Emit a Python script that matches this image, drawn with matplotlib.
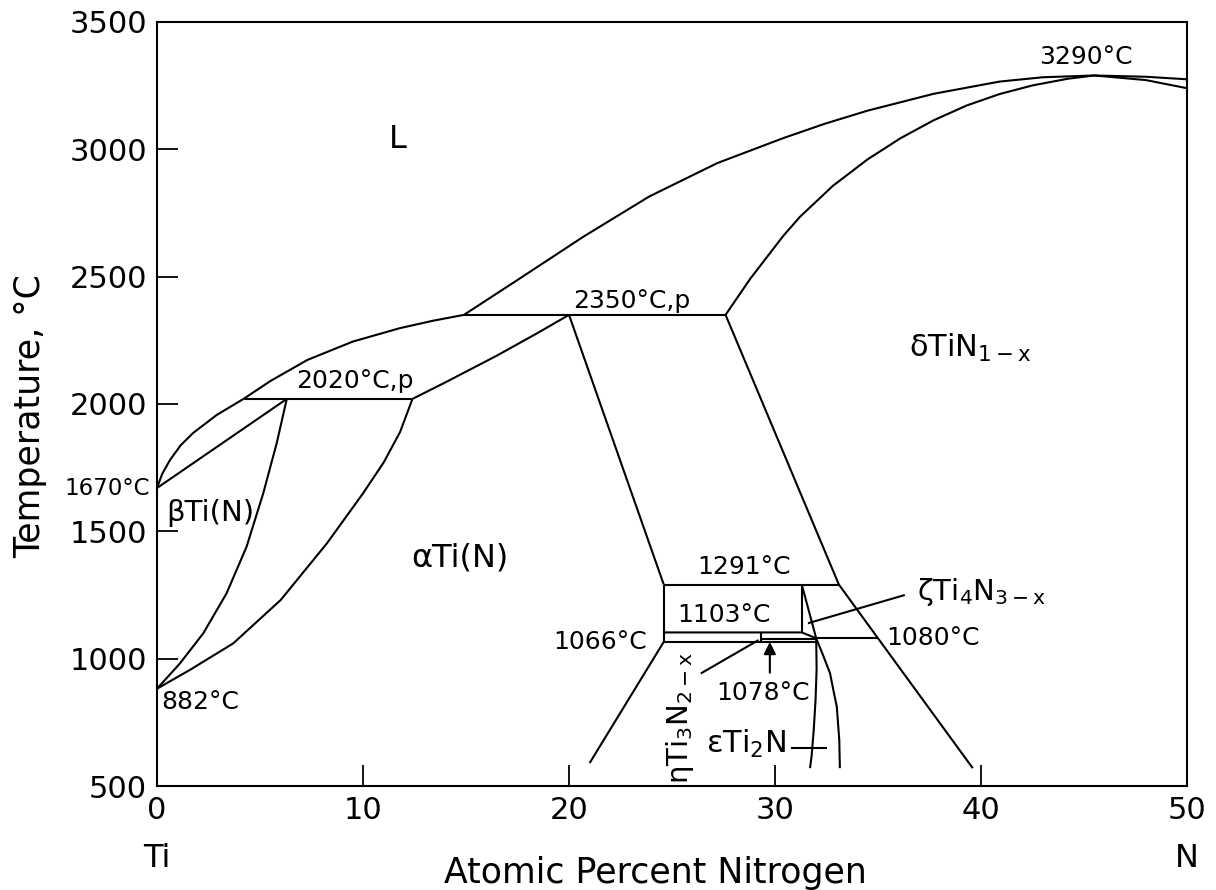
#Ti-N 相图
import matplotlib
import matplotlib.pyplot as plt

matplotlib.rcParams['font.family'] = ['DejaVu Sans']
matplotlib.rcParams['mathtext.fontset'] = 'dejavusans'

# 液相线 (成分 at.%N / 温度 °C)
liq_beta_x = [0, 0.25, 0.63, 1.15, 1.75, 2.9, 4.2]
liq_beta_t = [1670, 1725, 1780, 1838, 1886, 1957, 2020]
liq_alpha_x = [4.2, 5.5, 7.3, 9.5, 11.8, 13.4, 14.9]
liq_alpha_t = [2020, 2090, 2173, 2245, 2298, 2327, 2350]
liq_delta_x = [14.9, 17.5, 20.7, 23.9, 27.2, 30.4, 32.4, 34.5, 37.7, 40.9, 43.0, 45.5, 48.0, 50.0]
liq_delta_t = [2350, 2487, 2657, 2815, 2946, 3044, 3100, 3152, 3218, 3266, 3283, 3290, 3285, 3275]

# δTiN 固相线
sol_delta_x = [27.6, 28.8, 30.4, 31.2, 32.8, 34.5, 36.1, 37.7, 39.3, 40.9, 42.5, 44.2, 45.5, 48.0, 50.0]
sol_delta_t = [2350, 2492, 2660, 2734, 2856, 2961, 3044, 3114, 3172, 3217, 3251, 3277, 3290, 3272, 3240]

# β / α 区边界
sol_beta_x = [0, 6.3]
sol_beta_t = [1670, 2020]
beta_tr_x = [0, 1.12, 2.25, 3.38, 4.35, 5.16, 5.81, 6.3]
beta_tr_t = [882, 982, 1100, 1257, 1440, 1650, 1846, 2020]
alpha_tr_x = [0, 1.6, 3.7, 6.0, 8.25, 10.0, 11.0, 11.8, 12.4]
alpha_tr_t = [882, 956, 1060, 1230, 1453, 1649, 1770, 1890, 2020]
alpha_liq_x = [12.4, 14.0, 16.5, 18.5, 20.0]
alpha_liq_t = [2020, 2085, 2190, 2280, 2350]

# α/δ 两相区
alpha_hi_x = [20.0, 24.6]
alpha_hi_t = [2350, 1291]
alpha_lo_x = [24.6, 21.0]
alpha_lo_t = [1066, 590]
delta_r_x = [27.6, 33.1, 35.0, 39.6]
delta_r_t = [2350, 1291, 1080, 570]

# 水平线 (包晶/共析)
h2020_x = [4.2, 12.4]
h2350_x = [14.9, 27.6]
h1291_x = [24.6, 33.1]
h1080_x = [32.0, 35.0]
h1078_x = [29.3, 32.0]
h1066_x = [24.6, 32.0]

# 中间相 ζ、η、ε
l1103_x = [24.6, 31.3, 32.0]
l1103_t = [1103, 1103, 1080]
v246_t = [1291, 1066]
zeta_l_t = [1291, 1103]
zeta_r_x = [31.3, 32.0]
zeta_r_t = [1291, 1080]
eta_tick_t = [1103, 1070]
eps_l_x = [32.0, 32.02, 31.97, 31.88, 31.78, 31.7]
eps_l_t = [1080, 960, 840, 720, 620, 570]
eps_r_x = [32.0, 32.35, 32.67, 32.85, 33.0, 33.12, 33.15]
eps_r_t = [1080, 1010, 943, 870, 811, 681, 570]

# 引出线
zeta_ptr_x = [36.3, 31.6]
zeta_ptr_t = [1250, 1139]
eta_ptr_x = [26.4, 29.2]
eta_ptr_t = [942, 1073]
eps_ptr_x = [30.8, 32.5]
eps_ptr_t = [648, 648]

x_ticks = [0, 10, 20, 30, 40, 50]
y_ticks = [500, 1000, 1500, 2000, 2500, 3000, 3500]

fig = plt.figure(figsize=(12.16, 8.9), dpi=100)
ax = fig.add_axes([157 / 1216, 104 / 890, 1030 / 1216, 764 / 890])

kw = dict(color='black', linewidth=1.5, solid_capstyle='butt', solid_joinstyle='round')
ax.plot(liq_beta_x, liq_beta_t, **kw)
ax.plot(liq_alpha_x, liq_alpha_t, **kw)
ax.plot(liq_delta_x, liq_delta_t, **kw)
ax.plot(sol_delta_x, sol_delta_t, **kw)
ax.plot(sol_beta_x, sol_beta_t, **kw)
ax.plot(beta_tr_x, beta_tr_t, **kw)
ax.plot(alpha_tr_x, alpha_tr_t, **kw)
ax.plot(alpha_liq_x, alpha_liq_t, **kw)
ax.plot(alpha_hi_x, alpha_hi_t, **kw)
ax.plot(alpha_lo_x, alpha_lo_t, **kw)
ax.plot(delta_r_x, delta_r_t, **kw)
ax.plot(h2020_x, [2020, 2020], **kw)
ax.plot(h2350_x, [2350, 2350], **kw)
ax.plot(h1291_x, [1291, 1291], **kw)
ax.plot(h1080_x, [1080, 1080], **kw)
ax.plot(h1078_x, [1078, 1078], **kw)
ax.plot(h1066_x, [1066, 1066], **kw)
ax.plot(l1103_x, l1103_t, **kw)
ax.plot([24.6, 24.6], v246_t, **kw)
ax.plot([31.3, 31.3], zeta_l_t, **kw)
ax.plot(zeta_r_x, zeta_r_t, **kw)
ax.plot([29.3, 29.3], eta_tick_t, **kw)
ax.plot(eps_l_x, eps_l_t, **kw)
ax.plot(eps_r_x, eps_r_t, **kw)
ax.plot(zeta_ptr_x, zeta_ptr_t, **kw)
ax.plot(eta_ptr_x, eta_ptr_t, **kw)
ax.plot(eps_ptr_x, eps_ptr_t, **kw)
ax.annotate('', xy=(29.75, 1066), xytext=(29.75, 945),
            arrowprops=dict(arrowstyle='-|>', color='black', lw=1.5, mutation_scale=18,
                            shrinkA=0, shrinkB=0))

# 标注
fs = 18
ax.text(11.7, 3037, 'L', fontsize=23, ha='center', va='center')
ax.text(45.1, 3336, '3290°C', fontsize=fs, ha='center', va='baseline')
ax.text(23.06, 2378, '2350°C,p', fontsize=fs, ha='center', va='baseline')
ax.text(9.6, 2063, '2020°C,p', fontsize=fs, ha='center', va='baseline')
ax.text(39.5, 2185, r'δTiN$_{1-\mathrm{x}}$', fontsize=22, ha='center', va='baseline')
ax.text(-0.35, 1670, '1670°C', fontsize=16.5, ha='right', va='center', clip_on=False)
ax.text(2.57, 1572, 'βTi(N)', fontsize=21, ha='center', va='center')
ax.text(14.7, 1395, 'αTi(N)', fontsize=23, ha='center', va='center')
ax.text(28.5, 1333, '1291°C', fontsize=fs, ha='center', va='baseline')
ax.text(27.5, 1145, '1103°C', fontsize=fs, ha='center', va='baseline')
ax.text(23.8, 1066, '1066°C', fontsize=fs, ha='right', va='center')
ax.text(35.4, 1082, '1080°C', fontsize=fs, ha='left', va='center')
ax.text(36.9, 1230, r'ζTi$_4$N$_{3-\mathrm{x}}$', fontsize=21, ha='left', va='baseline')
ax.text(29.4, 838, '1078°C', fontsize=fs, ha='center', va='baseline')
ax.text(28.6, 630, 'εTi$_2$N', fontsize=22, ha='center', va='baseline')
ax.text(25.4, 767, r'ηTi$_3$N$_{2-\mathrm{x}}$', fontsize=21, ha='center', va='center', rotation=90)
ax.text(0.2, 830, '882°C', fontsize=fs, ha='left', va='center')

ax.set_xlim(0, 50)
ax.set_ylim(500, 3500)
ax.set_xticks(x_ticks)
ax.set_yticks(y_ticks)
ax.tick_params(direction='in', length=15, width=1.3, labelsize=22, pad=7,
               top=False, right=False)
for s in ax.spines.values():
    s.set_linewidth(1.5)

ax.text(0, -0.095, 'Ti', transform=ax.get_xaxis_transform(), fontsize=23, ha='center', va='center')
ax.text(50, -0.095, 'N', transform=ax.get_xaxis_transform(), fontsize=23, ha='center', va='center')
fig.text(655 / 1216, 1 - 873 / 890, 'Atomic Percent Nitrogen', fontsize=25, ha='center', va='center')
fig.text(30 / 1216, 1 - 416 / 890, 'Temperature, °C', fontsize=25, ha='center', va='center', rotation=90)

plt.savefig('out.png', dpi=100)
